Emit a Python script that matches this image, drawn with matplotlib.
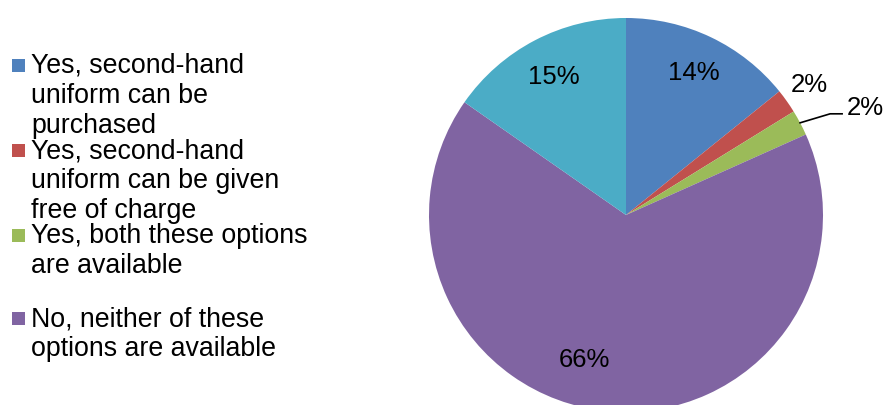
import numpy as np
import matplotlib.pyplot as plt
from matplotlib.patches import Rectangle

plt.rcParams['font.family'] = ['Liberation Sans', 'DejaVu Sans']

labels = ["Yes, second-hand\nuniform can be\npurchased",
          "Yes, second-hand\nuniform can be given\nfree of charge",
          "Yes, both these options\nare available",
          "No, neither of these\noptions are available"]
shares = [14.2, 2.0, 2.1, 66.4, 15.3]
colors = ["#4F81BD", "#C0504D", "#9BBB59", "#8064A2", "#4BACC6"]

W, H = 885, 405
fig = plt.figure(figsize=(W / 100, H / 100), dpi=100)
ax = fig.add_axes([0, 0, 1, 1])

cx, cy, r = 626, H - 215, 197
wedges, texts, autotexts = ax.pie(shares, colors=colors, startangle=90, counterclock=False,
                                  center=(cx, cy), radius=r, autopct='%.0f%%', pctdistance=0.8,
                                  wedgeprops=dict(linewidth=0), textprops=dict(fontsize=18.5))

# outside label for the thin red slice
dist = [0.8, 1.14, None, None, 0.79]
for w, t, d in zip(wedges, autotexts, dist):
    mid = np.deg2rad((w.theta1 + w.theta2) / 2)
    if d is not None:
        t.set_position((cx + r * d * np.cos(mid), cy + r * d * np.sin(mid)))

# green slice: leader line
w = wedges[2]
mid = np.deg2rad((w.theta1 + w.theta2) / 2)
ex, ey = cx + r * np.cos(mid), cy + r * np.sin(mid)
ax.plot([ex, ex + 30, ex + 42], [ey, ey + 9, ey + 9], color="black", lw=1.2)
autotexts[2].set_position((ex + 47, ey + 15))
autotexts[2].set_ha("left")

# purple label sits left of its mid angle
autotexts[3].set_position((584, H - 360))

# legend drawn by hand to keep the tight, overlapping spacing
first_line = [65, 150, 235, 318]
for lab, col, y in zip(labels, colors[:4], first_line):
    ax.add_patch(Rectangle((12, H - y - 7), 13, 13, facecolor=col, edgecolor="none"))
    ax.text(31, H - y + 12, lab, fontsize=19.3, va="top", ha="left", linespacing=1.19)

ax.set_xlim(0, W)
ax.set_ylim(0, H)
ax.axis("off")
fig.savefig("out.png", dpi=100)
